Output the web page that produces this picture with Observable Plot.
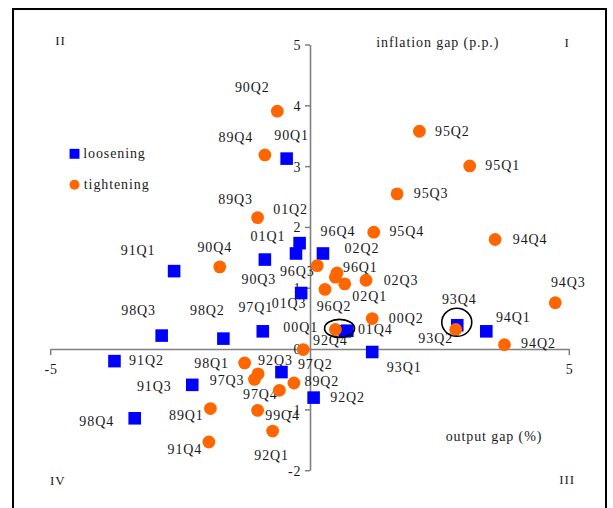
<!DOCTYPE html>
<html><head><meta charset="utf-8">
<script src="https://cdn.jsdelivr.net/npm/d3@7"></script>
<script src="https://cdn.jsdelivr.net/npm/@observablehq/plot@0.6"></script>
<style>
html,body{margin:0;padding:0;overflow:hidden;background:#fff;width:613px;height:508px}
#wrap{position:relative;width:613px;height:508px}
#frame{position:absolute;left:12px;top:8px;width:595px;height:560px;border:2px solid #000;box-sizing:border-box;pointer-events:none;z-index:2}
#wrap svg{position:absolute;left:0;top:0}
</style></head><body><div id="wrap"><div id="frame"></div></div>
<script>
// ---- data: loosening (blue squares) ----
const looseLabels    = ["90Q1","01Q2","01Q1","90Q3","96Q4","01Q3","91Q1","98Q3","98Q2","97Q1","01Q4","00Q1","93Q4","94Q1","93Q1","92Q2","92Q3","91Q2","91Q3","98Q4"];
const looseOutput    = [-0.46,-0.21,-0.28,-0.88,0.24,-0.18,-2.63,-2.87,-1.68,-0.92,0.71,0.66,2.83,3.39,1.19,0.06,-0.56,-3.78,-2.28,-3.39];
const looseInflation = [3.14,1.75,1.58,1.48,1.58,0.93,1.29,0.23,0.18,0.30,0.31,0.30,0.40,0.30,-0.04,-0.79,-0.37,-0.19,-0.58,-1.13];
// ---- data: tightening (orange circles) ----
const tightLabels    = ["90Q2","89Q4","89Q3","95Q2","95Q1","95Q3","95Q4","94Q4","94Q3","94Q2","93Q2","00Q2","02Q3","90Q4","96Q3","02Q2","96Q1","02Q1","96Q2","92Q4","97Q2","98Q1","97Q3","","89Q2","97Q4","99Q4","92Q1","89Q1","91Q4"];
const tightOutput    = [-0.64,-0.88,-1.02,2.10,3.07,1.67,1.22,3.56,4.72,3.74,2.80,1.19,1.07,-1.75,0.13,0.51,0.48,0.66,0.28,0.48,-0.14,-1.27,-1.01,-1.08,-0.32,-0.60,-1.02,-0.73,-1.93,-1.96];
const tightInflation = [3.92,3.20,2.17,3.59,3.02,2.56,1.93,1.81,0.77,0.08,0.33,0.51,1.14,1.36,1.38,1.26,1.19,1.08,0.99,0.33,0.00,-0.22,-0.40,-0.49,-0.55,-0.67,-1.00,-1.34,-0.97,-1.52];
// ---- circled points (annotation ellipses) ----
const ringOutput    = [0.57, 2.83];
const ringInflation = [0.34, 0.44];
// ---- axes ----
const yTicks = [-2,-1,0,1,2,3,4,5];
const xTicks = [-5,5];
const xTickLabels = ["-5","5"];
const seriesNames = ["loosening","tightening"];
const quadrantNames = ["II","I","IV","III"];
const xTitle = "output gap (%)";
const yTitle = "inflation gap (p.p.)";

// ---- style / layout ----
const BLUE = "#0000ff", ORANGE = "#ff6600", AXIS = "#808080", INK = "#1a1a1a";
const labelPlace = {
  "90Q1":[5,-23],"01Q2":[-9,-34],"01Q1":[-28,-17],"90Q3":[-6,20],"96Q4":[15,-22],"01Q3":[-12,11],
  "91Q1":[-36,-21],"98Q3":[-23,-25],"98Q2":[-16,-28],"97Q1":[-7,-24],"01Q4":[28,-1],"00Q1":[-44,-4],
  "93Q4":[2,-26],"94Q1":[27,-14],"93Q1":[32,16],"92Q2":[34,0],"92Q3":[-6,-12],"91Q2":[32,-1],
  "91Q3":[-38,2],"98Q4":[-38,3],
  "90Q2":[-25,-24],"89Q4":[-29,-17],"89Q3":[-22,-18],"95Q2":[33,0],"95Q1":[33,0],"95Q3":[34,0],
  "95Q4":[33,-1],"94Q4":[35,0],"94Q3":[13,-20],"94Q2":[34,-1],"93Q2":[-20,9],"00Q2":[34,0],
  "02Q3":[35,0],"90Q4":[-5,-19],"96Q3":[-20,6],"02Q2":[25,-24],"96Q1":[25,-10],"02Q1":[25,13],
  "96Q2":[9,17],"92Q4":[-5,11],"97Q2":[12,15],"98Q1":[-33,1],"97Q3":[-31,7],"89Q2":[28,-2],
  "97Q4":[-19,4],"99Q4":[25,5],"92Q1":[-1,24],"89Q1":[-24,7],"91Q4":[-24,8]
};
const ringRadii = [[15,9],[15,14]];

const loose = looseLabels.map((label,i)=>({label, x: looseOutput[i], y: looseInflation[i]}));
const tight = tightLabels.map((label,i)=>({label, x: tightOutput[i], y: tightInflation[i]}));
const rings = ringOutput.map((x,i)=>({x, y: ringInflation[i], r: ringRadii[i]}));

function axisTicks(index, {x, y}) {
  const g = d3.create("svg:g").attr("stroke", AXIS).attr("stroke-width", 1.5);
  for (const t of yTicks) g.append("line").attr("x1", x(0)-5).attr("x2", x(0)).attr("y1", y(t)).attr("y2", y(t));
  for (const t of xTicks) g.append("line").attr("x1", x(t)).attr("x2", x(t)).attr("y1", y(0)).attr("y2", y(0)+6);
  return g.node();
}
function ringMarks(index, {x, y}) {
  const g = d3.create("svg:g").attr("fill", "none").attr("stroke", "#000").attr("stroke-width", 1.6);
  for (const d of rings) g.append("ellipse").attr("cx", x(d.x)).attr("cy", y(d.y)).attr("rx", d.r[0]).attr("ry", d.r[1]);
  return g.node();
}
const labelMarks = [...loose, ...tight].filter(d => d.label).map(d => {
  const [dx, dy] = labelPlace[d.label] || [30, 0];
  return Plot.text([d], {x: "x", y: "y", text: "label", dx, dy, fill: INK, fontSize: 14});
});
const note = (txt, frameAnchor, dx, dy, extra = {}) =>
  Plot.text([txt], {frameAnchor, dx, dy, text: d => d, textAnchor: "middle", lineAnchor: "middle", fill: INK, fontSize: 14, ...extra});

const chart = Plot.plot({
  width: 613, height: 508,
  marginLeft: 50.7, marginRight: 43.7, marginTop: 45, marginBottom: 37.3,
  x: {domain: [-5, 5], axis: null},
  y: {domain: [-2, 5], axis: null},
  style: {fontFamily: "'Liberation Serif', 'Times New Roman', serif", fontSize: "14px", letterSpacing: "0.9px", background: "#fff", overflow: "visible"},
  marks: [
    Plot.ruleY([0], {x1: -5, x2: 5, stroke: AXIS, strokeWidth: 1.6}),
    Plot.ruleX([0], {y1: -2, y2: 5, stroke: AXIS, strokeWidth: 1.6}),
    axisTicks,
    Plot.text(yTicks, {x: 0, y: d => d, text: d => String(d), textAnchor: "end", dx: -9, fill: INK, fontSize: 14}),
    Plot.text(xTicks, {x: d => d, y: 0, text: (d, i) => xTickLabels[i], dy: 20, fill: INK, fontSize: 14}),
    ...labelMarks,
    Plot.dot(loose, {x: "x", y: "y", symbol: "square", r: 7.1, fill: BLUE}),
    Plot.dot(tight, {x: "x", y: "y", symbol: "circle", r: 6.4, fill: ORANGE}),
    ringMarks,
    // legend
    Plot.dot([seriesNames[0]], {frameAnchor: "top-left", dx: 23.3, dy: 108.3, symbol: "square", r: 5.6, fill: BLUE}),
    Plot.text([seriesNames[0]], {frameAnchor: "top-left", dx: 32, dy: 108.3, text: d => d, textAnchor: "start", lineAnchor: "middle", fill: INK, fontSize: 14}),
    Plot.dot([seriesNames[1]], {frameAnchor: "top-left", dx: 23.3, dy: 139.3, symbol: "circle", r: 5, fill: ORANGE}),
    Plot.text([seriesNames[1]], {frameAnchor: "top-left", dx: 32.6, dy: 139.3, text: d => d, textAnchor: "start", lineAnchor: "middle", fill: INK, fontSize: 14}),
    // quadrant numerals and axis titles
    note(quadrantNames[0], "top-left", 9.3, -4.3, {fontSize: 13}),
    note(quadrantNames[1], "top-right", -2.6, -2.7, {fontSize: 13}),
    note(quadrantNames[2], "bottom-left", 6.6, 10, {fontSize: 13}),
    note(quadrantNames[3], "bottom-right", -2.6, 8.6, {fontSize: 13}),
    note(yTitle, "top-right", -132, -3),
    note(xTitle, "bottom-right", -75.8, -34.7)
  ]
});
document.getElementById("wrap").appendChild(chart);
</script>
</body></html>
